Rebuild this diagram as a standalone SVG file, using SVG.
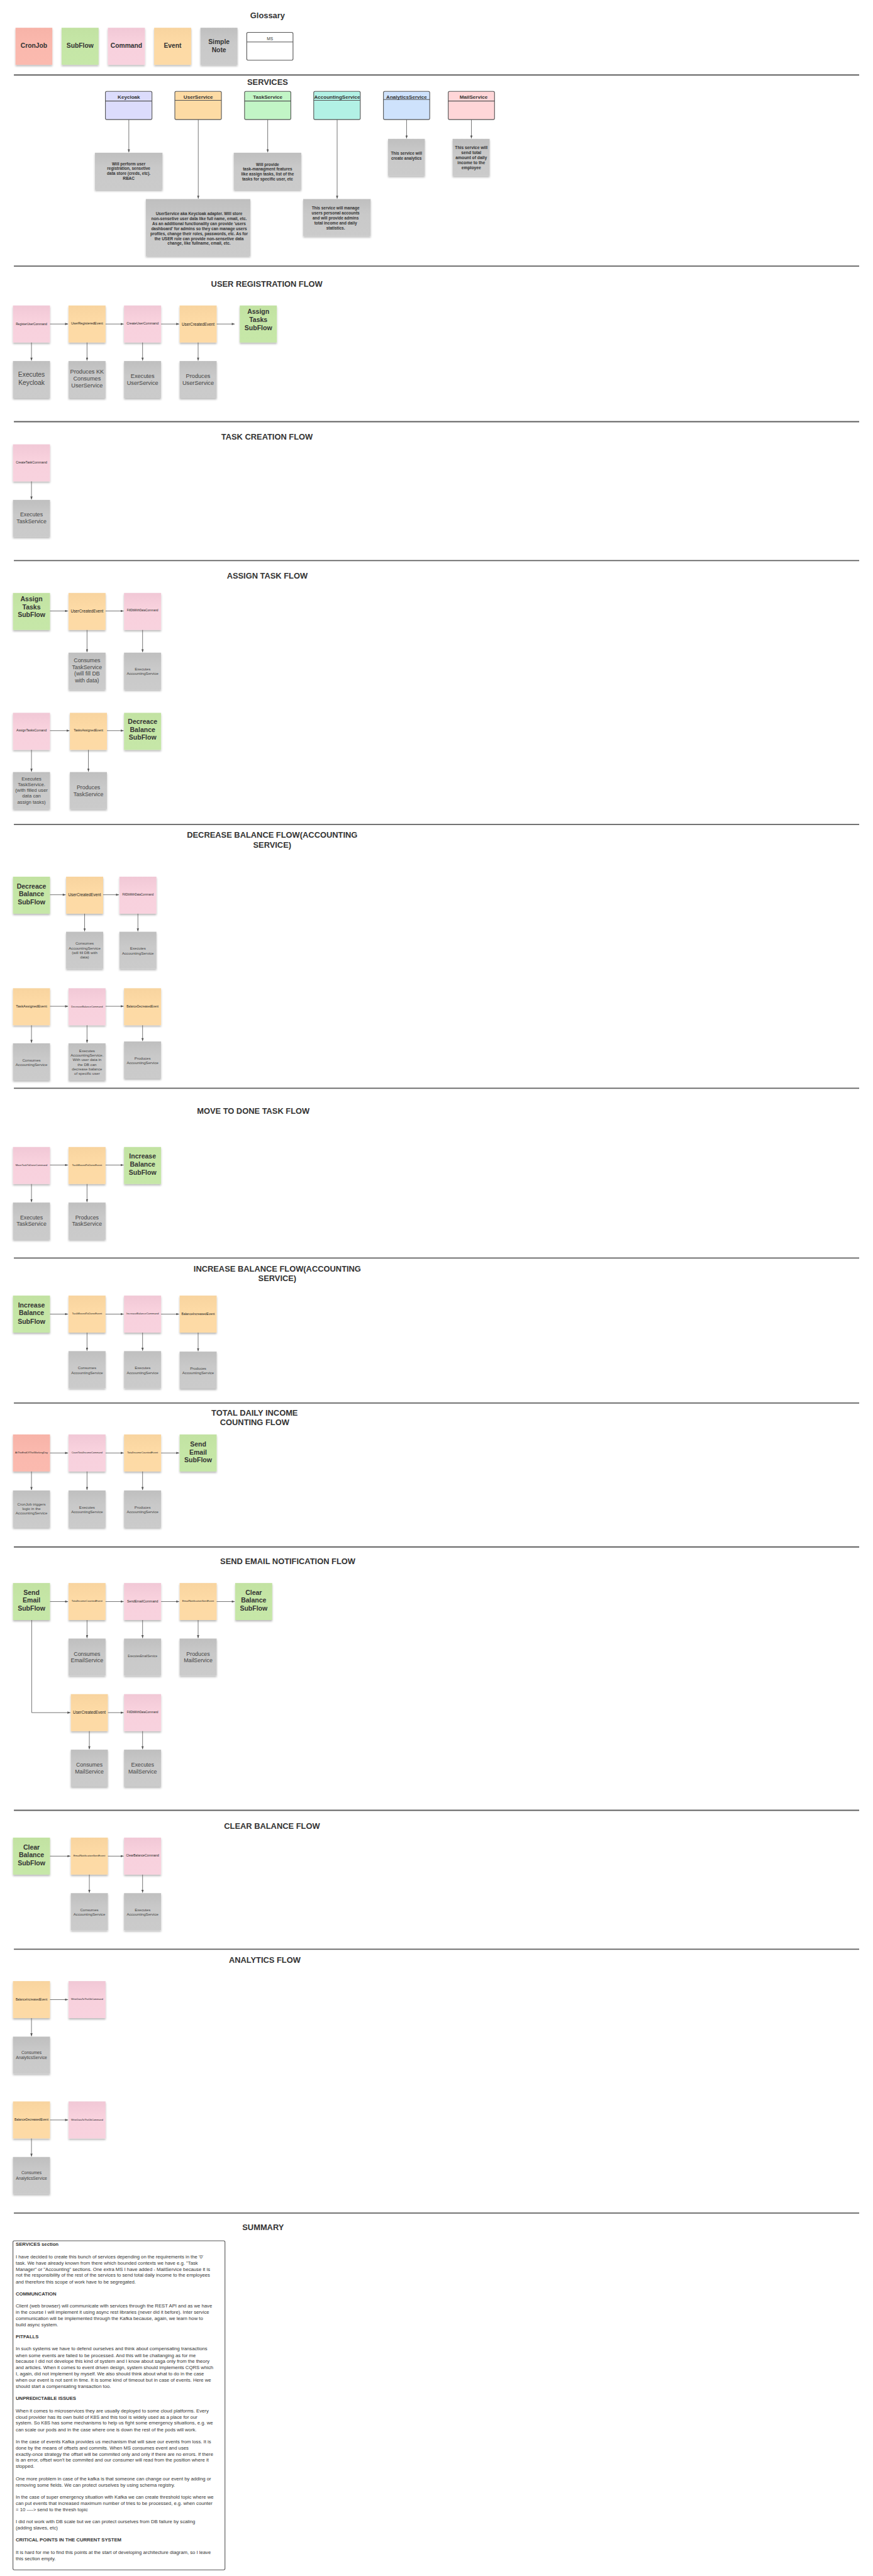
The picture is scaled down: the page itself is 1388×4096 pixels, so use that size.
<svg xmlns="http://www.w3.org/2000/svg" width="1388" height="4096" viewBox="0 0 1388 4096">
<defs>
<style>
text, tspan{font-family:"Liberation Sans",Arial,Helvetica,sans-serif;dominant-baseline:central}
.ttl{font-size:17.5px;font-weight:bold;fill:#333}
.ttlc{font-size:17.5px;font-weight:bold;fill:#333;text-anchor:middle}
.sf{font-size:14.3px;font-weight:bold;fill:#333;text-anchor:middle}
.gl{font-size:14px;font-weight:bold;fill:#333;text-anchor:middle}
.lb{fill:#222;text-anchor:middle}
.gn{fill:#444;text-anchor:middle}
.sv{font-size:8.8px;font-weight:bold;fill:#333;text-anchor:middle}
.hd{font-size:11px;font-weight:bold;fill:#333;text-anchor:middle}
.pk{fill:url(#gPk);filter:url(#sh)}
.or{fill:url(#gOr);filter:url(#sh)}
.gr{fill:url(#gGr);filter:url(#sh)}
.gy{fill:url(#gGy);filter:url(#sh)}
.cr{fill:url(#gCr);filter:url(#sh)}
.sep{stroke:#5f5f5f;stroke-width:2.5}
.cn{stroke:#555;stroke-width:1.1;fill:none;marker-end:url(#ah)}
.box{stroke:#555;stroke-width:1.5}
.dv{stroke:#555;stroke-width:1.5}
.sum{font-size:10.5px;fill:#333}
.sb{font-weight:bold}
</style>
<linearGradient id="gPk" x1="0" y1="0" x2="0" y2="1"><stop offset="0" stop-color="#F1C8D6"/><stop offset="0.4" stop-color="#F8D1DD"/><stop offset="1" stop-color="#F8D2DE"/></linearGradient>
<linearGradient id="gOr" x1="0" y1="0" x2="0" y2="1"><stop offset="0" stop-color="#F8D49F"/><stop offset="0.4" stop-color="#FDDAA5"/><stop offset="1" stop-color="#FDDAA6"/></linearGradient>
<linearGradient id="gGr" x1="0" y1="0" x2="0" y2="1"><stop offset="0" stop-color="#C2E2A2"/><stop offset="0.4" stop-color="#C5E6A6"/><stop offset="1" stop-color="#C6E7A8"/></linearGradient>
<linearGradient id="gGy" x1="0" y1="0" x2="0" y2="1"><stop offset="0" stop-color="#BFBFBF"/><stop offset="0.4" stop-color="#C9C9C9"/><stop offset="1" stop-color="#CBCBCB"/></linearGradient>
<linearGradient id="gCr" x1="0" y1="0" x2="0" y2="1"><stop offset="0" stop-color="#F7B3A8"/><stop offset="0.4" stop-color="#FAB8AD"/><stop offset="1" stop-color="#FBBAAF"/></linearGradient>
<filter id="sh" x="-15%" y="-15%" width="130%" height="135%"><feDropShadow dx="0" dy="3" stdDeviation="2" flood-color="#000" flood-opacity="0.28"/></filter>
<marker id="ah" viewBox="0 0 10 8" refX="10" refY="4" markerWidth="7" markerHeight="5" orient="auto" markerUnits="userSpaceOnUse"><path d="M0,0 L10,4 L0,8 z" fill="#555"/></marker>
</defs>
<rect width="1388" height="4096" fill="#fff"/>
<g transform="scale(0.736)">

<g id="titles">
<text class="ttlc" x="578" y="33">Glossary</text>
<text class="ttlc" x="578" y="177.5">SERVICES</text>
<text class="ttl" x="456" y="613">USER REGISTRATION FLOW</text>
<text class="ttl" x="478" y="943">TASK CREATION FLOW</text>
<text class="ttl" x="490" y="1244">ASSIGN TASK FLOW</text>
<text class="ttlc" x="588"><tspan x="588" y="1803">DECREASE BALANCE FLOW(ACCOUNTING</tspan><tspan x="588" y="1824.5">SERVICE)</tspan></text>
<text class="ttl" x="425.5" y="2400">MOVE TO DONE TASK FLOW</text>
<text class="ttlc" x="599"><tspan x="599" y="2740">INCREASE BALANCE FLOW(ACCOUNTING</tspan><tspan x="599" y="2761.5">SERVICE)</tspan></text>
<text class="ttlc" x="550"><tspan x="550" y="3051">TOTAL DAILY INCOME</tspan><tspan x="550" y="3072">COUNTING FLOW</tspan></text>
<text class="ttl" x="475.7" y="3373">SEND EMAIL NOTIFICATION FLOW</text>
<text class="ttl" x="484" y="3945">CLEAR BALANCE FLOW</text>
<text class="ttl" x="494.5" y="4234">ANALYTICS FLOW</text>
<text class="ttl" x="523.5" y="4812">SUMMARY</text>
</g>

<g id="separators">
<line class="sep" x1="30" y1="162" x2="1856" y2="162"/>
<line class="sep" x1="30" y1="575" x2="1856" y2="575"/>
<line class="sep" x1="30" y1="911" x2="1856" y2="911"/>
<line class="sep" x1="30" y1="1211" x2="1856" y2="1211"/>
<line class="sep" x1="30" y1="1781" x2="1856" y2="1781"/>
<line class="sep" x1="30" y1="2351" x2="1856" y2="2351"/>
<line class="sep" x1="30" y1="2718" x2="1856" y2="2718"/>
<line class="sep" x1="30" y1="3031" x2="1856" y2="3031"/>
<line class="sep" x1="30" y1="3342" x2="1856" y2="3342"/>
<line class="sep" x1="30" y1="3911" x2="1856" y2="3911"/>
<line class="sep" x1="30" y1="4211" x2="1856" y2="4211"/>
<line class="sep" x1="30" y1="4781" x2="1856" y2="4781"/>
</g>

<!-- Glossary -->
<g id="gl-cronjob"><rect class="cr" x="33.5" y="60" width="79.5" height="80"/><text class="gl" x="73.2" y="98.3">CronJob</text></g>
<g id="gl-subflow"><rect class="gr" x="133" y="60" width="80" height="80"/><text class="gl" x="173" y="98.3">SubFlow</text></g>
<g id="gl-command"><rect class="pk" x="233" y="60" width="80" height="80"/><text class="gl" x="273" y="98.3">Command</text></g>
<g id="gl-event"><rect class="or" x="333" y="60" width="80" height="80"/><text class="gl" x="373" y="98.3">Event</text></g>
<g id="gl-note"><rect class="gy" x="433" y="60" width="80" height="80"/><text class="gl"><tspan x="473" y="89.3">Simple</tspan><tspan x="473" y="106.7">Note</tspan></text></g>
<g id="gl-ms"><rect class="box" x="533" y="70" width="100" height="60" rx="3" fill="#fff"/><line class="dv" x1="533" y1="90.7" x2="633" y2="90.7"/><text x="583" y="83" font-size="9" fill="#333" text-anchor="middle">MS</text></g>

<!-- Services -->
<g id="svc-keycloak"><rect class="box" x="227.7" y="197.3" width="100.6" height="61" rx="3" fill="#DCDCFC"/><line class="dv" x1="227.7" y1="218.3" x2="328.3" y2="218.3"/><text class="hd" x="278.3" y="210.5">Keycloak</text></g>
<g id="svc-user"><rect class="box" x="377.7" y="197.3" width="100.6" height="61" rx="3" fill="#FDDBA4"/><line class="dv" x1="377.7" y1="216.7" x2="478.3" y2="216.7"/><text class="hd" x="428.3" y="210">UserService</text></g>
<g id="svc-task"><rect class="box" x="528.3" y="197.3" width="100" height="61" rx="3" fill="#C2F5C6"/><line class="dv" x1="528.3" y1="218.3" x2="628.3" y2="218.3"/><text class="hd" x="578.3" y="210.5">TaskService</text></g>
<g id="svc-accounting"><rect class="box" x="677.7" y="197.3" width="100.6" height="61" rx="3" fill="#B2F1E5"/><line class="dv" x1="677.7" y1="216.7" x2="778.3" y2="216.7"/><text class="hd" x="728.3" y="210">AccountingService</text></g>
<g id="svc-analytics"><rect class="box" x="828.3" y="197.3" width="100" height="61" rx="3" fill="#CEE2FC"/><line class="dv" x1="828.3" y1="215" x2="928.3" y2="215"/><text class="hd" x="878.3" y="209.5">AnalyticsService</text></g>
<g id="svc-mail"><rect class="box" x="968.3" y="197.3" width="100" height="61" rx="3" fill="#FFD6D8"/><line class="dv" x1="968.3" y1="218.3" x2="1068.3" y2="218.3"/><text class="hd" x="1023" y="210.5">MailService</text></g>

<g id="note-keycloak"><rect class="gy" x="205" y="330" width="146" height="80"/><text class="sv"><tspan x="278" y="352.7">Will perform user</tspan><tspan x="278" y="363.3">registration, sensetive</tspan><tspan x="278" y="374">data store (creds, etc).</tspan><tspan x="278" y="384.7">RBAC</tspan></text></g>
<g id="note-user"><rect class="gy" x="315" y="430" width="225.7" height="123"/><text class="sv"><tspan x="430" y="461">UserService aka Keycloak adapter. Will store</tspan><tspan x="430" y="471.7">non-sensetive user data like full name, email, etc.</tspan><tspan x="430" y="482.3">As an additional functionality can provide 'users</tspan><tspan x="430" y="493">dashboard' for admins so they can manage users</tspan><tspan x="430" y="503.7">profiles, change their roles, passwords, etc. As for</tspan><tspan x="430" y="514.3">the USER role can provide non-sensetive data</tspan><tspan x="430" y="525">change, like fullname, email, etc.</tspan></text></g>
<g id="note-task"><rect class="gy" x="505" y="330" width="145.7" height="80"/><text class="sv"><tspan x="578" y="354">Will provide</tspan><tspan x="578" y="364.7">task-managment features</tspan><tspan x="578" y="375.3">like assign tasks, list of the</tspan><tspan x="578" y="386">tasks for specific user, etc</tspan></text></g>
<g id="note-accounting"><rect class="gy" x="655" y="430" width="145.7" height="80"/><text class="sv"><tspan x="725" y="449">This service will manage</tspan><tspan x="725" y="459.7">users personal accounts</tspan><tspan x="725" y="470.3">and will provide admins</tspan><tspan x="725" y="481">total income and daily</tspan><tspan x="725" y="491.7">statistics.</tspan></text></g>
<g id="note-analytics"><rect class="gy" x="838.3" y="300" width="79.4" height="80"/><text class="sv"><tspan x="878" y="330">This service will</tspan><tspan x="878" y="340.7">create analytics</tspan></text></g>
<g id="note-mail"><rect class="gy" x="977.7" y="300" width="80" height="80"/><text class="sv" font-size="9.2"><tspan x="1018" y="317.3" font-size="9.2">This service will</tspan><tspan x="1018" y="328.3" font-size="9.2">send total</tspan><tspan x="1018" y="339.7" font-size="9.2">amount of daily</tspan><tspan x="1018" y="350.7" font-size="9.2">income to the</tspan><tspan x="1018" y="361.7" font-size="9.2">employee</tspan></text></g>

<!-- User registration -->
<g id="ur-register"><rect class="pk" x="28" y="660" width="80" height="80"/><text class="lb" x="68" y="700" font-size="6.5">RegisterUserCommand</text></g>
<g id="ur-registered"><rect class="or" x="148" y="660" width="80" height="80"/><text class="lb" x="188" y="699" font-size="7.3">UserRegisteredEvent</text></g>
<g id="ur-create"><rect class="pk" x="268" y="660" width="80" height="80"/><text class="lb" x="308" y="699" font-size="7.1">CreateUserCommand</text></g>
<g id="ur-created"><rect class="or" x="388" y="660" width="80" height="80"/><text class="lb" x="428" y="700" font-size="8.6">UserCreatedEvent</text></g>
<g id="ur-assign-sf"><rect class="gr" x="518" y="660" width="80" height="80"/><text class="sf"><tspan x="558" y="672.7">Assign</tspan><tspan x="558" y="690">Tasks</tspan><tspan x="558" y="707.3">SubFlow</tspan></text></g>
<g id="ur-n1"><rect class="gy" x="28" y="780" width="80" height="80"/><text class="gn" font-size="14"><tspan x="68" y="809">Executes</tspan><tspan x="68" y="826.7">Keycloak</tspan></text></g>
<g id="ur-n2"><rect class="gy" x="148" y="780" width="80" height="80"/><text class="gn" font-size="12.5"><tspan x="188" y="803">Produces KK</tspan><tspan x="188" y="818">Consumes</tspan><tspan x="188" y="832.7">UserService</tspan></text></g>
<g id="ur-n3"><rect class="gy" x="268" y="780" width="80" height="80"/><text class="gn" font-size="12.5"><tspan x="308" y="812.7">Executes</tspan><tspan x="308" y="827.3">UserService</tspan></text></g>
<g id="ur-n4"><rect class="gy" x="388" y="780" width="80" height="80"/><text class="gn" font-size="12.5"><tspan x="428" y="812.7">Produces</tspan><tspan x="428" y="827.3">UserService</tspan></text></g>

<!-- Task creation -->
<g id="tc-create"><rect class="pk" x="28" y="960" width="80" height="80"/><text class="lb" x="68" y="999" font-size="7">CreateTaskCommand</text></g>
<g id="tc-n1"><rect class="gy" x="28" y="1080" width="80" height="80"/><text class="gn" font-size="12"><tspan x="68" y="1112">Executes</tspan><tspan x="68" y="1126.5">TaskService</tspan></text></g>

<!-- Assign task -->
<g id="at-assign-sf"><rect class="gr" x="28" y="1281" width="80" height="80"/><text class="sf"><tspan x="68" y="1293.5">Assign</tspan><tspan x="68" y="1310.5">Tasks</tspan><tspan x="68" y="1328">SubFlow</tspan></text></g>
<g id="at-created"><rect class="or" x="148" y="1281" width="80" height="80"/><text class="lb" x="188" y="1320" font-size="8.6">UserCreatedEvent</text></g>
<g id="at-filldb"><rect class="pk" x="268" y="1281" width="80" height="80"/><text class="lb" x="308" y="1319" font-size="6">FillDbWithDataCommand</text></g>
<g id="at-n1"><rect class="gy" x="148" y="1410" width="80" height="80"/><text class="gn" font-size="12"><tspan x="188" y="1426">Consumes</tspan><tspan x="188" y="1441">TaskService</tspan><tspan x="188" y="1455.5">(will fill DB</tspan><tspan x="188" y="1470">with data)</tspan></text></g>
<g id="at-n2"><rect class="gy" x="268" y="1410" width="80" height="80"/><text class="gn" font-size="8.3"><tspan x="308" y="1444">Executes</tspan><tspan x="308" y="1454">AccountingService</tspan></text></g>
<g id="at-assigncmd"><rect class="pk" x="28" y="1540" width="80" height="80"/><text class="lb" x="68" y="1578" font-size="7">AssignTasksComand</text></g>
<g id="at-assigned"><rect class="or" x="151" y="1540" width="80" height="80"/><text class="lb" x="191" y="1578" font-size="6.9">TasksAssignedEvent</text></g>
<g id="at-decrease-sf"><rect class="gr" x="268" y="1540" width="80" height="80"/><text class="sf"><tspan x="308" y="1558.7">Decreace</tspan><tspan x="308" y="1576">Balance</tspan><tspan x="308" y="1593">SubFlow</tspan></text></g>
<g id="at-n3"><rect class="gy" x="28" y="1668" width="80" height="80"/><text class="gn" font-size="10.5"><tspan x="68" y="1681.5">Executes</tspan><tspan x="68" y="1694">TaskService.</tspan><tspan x="68" y="1706.7">(with filled user</tspan><tspan x="68" y="1719">data can</tspan><tspan x="68" y="1732">assign tasks)</tspan></text></g>
<g id="at-n4"><rect class="gy" x="151" y="1668" width="80" height="80"/><text class="gn" font-size="12"><tspan x="191" y="1701">Produces</tspan><tspan x="191" y="1715.4">TaskService</tspan></text></g>

<!-- Decrease balance -->
<g id="db-decrease-sf"><rect class="gr" x="28" y="1894" width="80" height="80"/><text class="sf"><tspan x="68" y="1914">Decreace</tspan><tspan x="68" y="1931">Balance</tspan><tspan x="68" y="1948.7">SubFlow</tspan></text></g>
<g id="db-created"><rect class="or" x="142.8" y="1894" width="80" height="80"/><text class="lb" x="182.8" y="1933" font-size="8.6">UserCreatedEvent</text></g>
<g id="db-filldb"><rect class="pk" x="257.9" y="1894" width="80" height="80"/><text class="lb" x="297.9" y="1933" font-size="6">FillDbWithDataCommand</text></g>
<g id="db-n1"><rect class="gy" x="142.8" y="2013" width="80" height="80"/><text class="gn" font-size="8.3"><tspan x="182.8" y="2037">Consumes</tspan><tspan x="182.8" y="2047">AccountingService</tspan><tspan x="182.8" y="2056.5">(will fill DB with</tspan><tspan x="182.8" y="2066">data)</tspan></text></g>
<g id="db-n2"><rect class="gy" x="257.9" y="2013" width="80" height="80"/><text class="gn" font-size="8.3"><tspan x="297.9" y="2048">Executes</tspan><tspan x="297.9" y="2058">AccountingService</tspan></text></g>
<g id="db-taskassigned"><rect class="or" x="28" y="2135" width="80" height="80"/><text class="lb" x="68" y="2174" font-size="7.7">TaskAssignedEvent</text></g>
<g id="db-decreasecmd"><rect class="pk" x="148" y="2135" width="80" height="80"/><text class="lb" x="188" y="2174" font-size="5.45">DecreaseBalanceCommand</text></g>
<g id="db-decreased"><rect class="or" x="268" y="2135" width="80" height="80"/><text class="lb" x="308" y="2174" font-size="6.3">BalanceDecreasedEvent</text></g>
<g id="db-n3"><rect class="gy" x="28" y="2254" width="80" height="80"/><text class="gn" font-size="8.3"><tspan x="68" y="2289.5">Consumes</tspan><tspan x="68" y="2299.5">AccountingService</tspan></text></g>
<g id="db-n4"><rect class="gy" x="148" y="2254" width="80" height="80"/><text class="gn" font-size="8.3"><tspan x="188" y="2269">Executes</tspan><tspan x="188" y="2279">AccountingService.</tspan><tspan x="188" y="2288.5">With user data in</tspan><tspan x="188" y="2298.3">the DB can</tspan><tspan x="188" y="2308.3">decrease balance</tspan><tspan x="188" y="2318.3">of specific user</tspan></text></g>
<g id="db-n5"><rect class="gy" x="268" y="2250" width="80" height="80"/><text class="gn" font-size="8.3"><tspan x="308" y="2285">Produces</tspan><tspan x="308" y="2295">AccountingService</tspan></text></g>

<!-- Move to done -->
<g id="md-movecmd"><rect class="pk" x="28" y="2478" width="80" height="80"/><text class="lb" x="68" y="2517" font-size="5.5">MoveTaskToDoneCommand</text></g>
<g id="md-moved"><rect class="or" x="148" y="2478" width="80" height="80"/><text class="lb" x="188" y="2517" font-size="5.9">TaskMovedToDoneEvent</text></g>
<g id="md-increase-sf"><rect class="gr" x="268" y="2478" width="80" height="80"/><text class="sf"><tspan x="308" y="2497.5">Increase</tspan><tspan x="308" y="2515">Balance</tspan><tspan x="308" y="2532">SubFlow</tspan></text></g>
<g id="md-n1"><rect class="gy" x="28" y="2598" width="80" height="80"/><text class="gn" font-size="12"><tspan x="68" y="2630">Executes</tspan><tspan x="68" y="2644.5">TaskService</tspan></text></g>
<g id="md-n2"><rect class="gy" x="148" y="2598" width="80" height="80"/><text class="gn" font-size="12"><tspan x="188" y="2630">Produces</tspan><tspan x="188" y="2644.5">TaskService</tspan></text></g>

<!-- Increase balance -->
<g id="ib-increase-sf"><rect class="gr" x="28" y="2799" width="80" height="80"/><text class="sf"><tspan x="68" y="2819">Increase</tspan><tspan x="68" y="2836">Balance</tspan><tspan x="68" y="2854">SubFlow</tspan></text></g>
<g id="ib-moved"><rect class="or" x="148" y="2799" width="80" height="80"/><text class="lb" x="188" y="2838" font-size="5.9">TaskMovedToDoneEvent</text></g>
<g id="ib-increasecmd"><rect class="pk" x="268" y="2799" width="80" height="80"/><text class="lb" x="308" y="2838" font-size="5.8">IncreaseBalanceCommand</text></g>
<g id="ib-increased"><rect class="or" x="388" y="2799" width="80" height="80"/><text class="lb" x="428" y="2838" font-size="6.8">BalanceIncreasedEvent</text></g>
<g id="ib-n1"><rect class="gy" x="148" y="2919" width="80" height="80"/><text class="gn" font-size="8.3"><tspan x="188" y="2953.6">Consumes</tspan><tspan x="188" y="2964">AccountingService</tspan></text></g>
<g id="ib-n2"><rect class="gy" x="268" y="2919" width="80" height="80"/><text class="gn" font-size="8.3"><tspan x="308" y="2953.6">Executes</tspan><tspan x="308" y="2964">AccountingService</tspan></text></g>
<g id="ib-n3"><rect class="gy" x="388" y="2920" width="80" height="80"/><text class="gn" font-size="8.3"><tspan x="428" y="2955">Produces</tspan><tspan x="428" y="2965">AccountingService</tspan></text></g>

<!-- Total daily income -->
<g id="td-cron"><rect class="cr" x="28" y="3099" width="80" height="80"/><text class="lb" x="68" y="3138" font-size="5.6">AtTheEndOfTheWorkingDay</text></g>
<g id="td-countcmd"><rect class="pk" x="148" y="3099" width="80" height="80"/><text class="lb" x="188" y="3138" font-size="5.3">CountTotalIncomeCommand</text></g>
<g id="td-counted"><rect class="or" x="268" y="3099" width="80" height="80"/><text class="lb" x="308" y="3138" font-size="5.7">TotalIncomeCountedEvent</text></g>
<g id="td-email-sf"><rect class="gr" x="388" y="3099" width="80" height="80"/><text class="sf"><tspan x="428" y="3119">Send</tspan><tspan x="428" y="3136.7">Email</tspan><tspan x="428" y="3154">SubFlow</tspan></text></g>
<g id="td-n1"><rect class="gy" x="28" y="3220" width="80" height="80"/><text class="gn" font-size="8.3"><tspan x="68" y="3248">CronJob triggers</tspan><tspan x="68" y="3258">logic in the</tspan><tspan x="68" y="3268">AccountingService</tspan></text></g>
<g id="td-n2"><rect class="gy" x="148" y="3220" width="80" height="80"/><text class="gn" font-size="8.3"><tspan x="188" y="3255">Executes</tspan><tspan x="188" y="3265">AccountingService</tspan></text></g>
<g id="td-n3"><rect class="gy" x="268" y="3220" width="80" height="80"/><text class="gn" font-size="8.3"><tspan x="308" y="3255">Produces</tspan><tspan x="308" y="3265">AccountingService</tspan></text></g>

<!-- Send email -->
<g id="se-email-sf"><rect class="gr" x="28" y="3420" width="80" height="80"/><text class="sf"><tspan x="68" y="3440">Send</tspan><tspan x="68" y="3457">Email</tspan><tspan x="68" y="3474.7">SubFlow</tspan></text></g>
<g id="se-counted"><rect class="or" x="148" y="3420" width="80" height="80"/><text class="lb" x="188" y="3459" font-size="5.7">TotalIncomeCountedEvent</text></g>
<g id="se-sendcmd"><rect class="pk" x="268" y="3420" width="80" height="80"/><text class="lb" x="308" y="3459" font-size="7.1">SendEmailCommand</text></g>
<g id="se-sent"><rect class="or" x="388" y="3420" width="80" height="80"/><text class="lb" x="428" y="3459" font-size="5.7">EmailNotificationSentEvent</text></g>
<g id="se-clear-sf"><rect class="gr" x="508" y="3420" width="80" height="80"/><text class="sf"><tspan x="548" y="3440">Clear</tspan><tspan x="548" y="3457">Balance</tspan><tspan x="548" y="3474.7">SubFlow</tspan></text></g>
<g id="se-n1"><rect class="gy" x="148" y="3540" width="80" height="80"/><text class="gn" font-size="12"><tspan x="188" y="3572.7">Consumes</tspan><tspan x="188" y="3587">EmailService</tspan></text></g>
<g id="se-n2"><rect class="gy" x="268" y="3540" width="80" height="80"/><text class="gn" x="308" y="3578.6" font-size="6.4">ExecutesEmailService</text></g>
<g id="se-n3"><rect class="gy" x="388" y="3540" width="80" height="80"/><text class="gn" font-size="12"><tspan x="428" y="3572.7">Produces</tspan><tspan x="428" y="3587">MailService</tspan></text></g>
<g id="se-created"><rect class="or" x="153" y="3660" width="80" height="80"/><text class="lb" x="193" y="3699.6" font-size="8.6">UserCreatedEvent</text></g>
<g id="se-filldb"><rect class="pk" x="268" y="3660" width="80" height="80"/><text class="lb" x="308" y="3699.6" font-size="6">FillDbWithDataCommand</text></g>
<g id="se-n4"><rect class="gy" x="153" y="3780" width="80" height="80"/><text class="gn" font-size="12"><tspan x="193" y="3812.5">Consumes</tspan><tspan x="193" y="3827">MailService</tspan></text></g>
<g id="se-n5"><rect class="gy" x="268" y="3780" width="80" height="80"/><text class="gn" font-size="12"><tspan x="308" y="3812.5">Executes</tspan><tspan x="308" y="3827">MailService</tspan></text></g>

<!-- Clear balance -->
<g id="cb-clear-sf"><rect class="gr" x="28" y="3970" width="80" height="80"/><text class="sf"><tspan x="68" y="3990">Clear</tspan><tspan x="68" y="4007">Balance</tspan><tspan x="68" y="4025">SubFlow</tspan></text></g>
<g id="cb-sent"><rect class="or" x="153" y="3970" width="80" height="80"/><text class="lb" x="193" y="4009" font-size="5.7">EmailNotificationSentEvent</text></g>
<g id="cb-clearcmd"><rect class="pk" x="268" y="3970" width="80" height="80"/><text class="lb" x="308" y="4008.7" font-size="6.7">ClearBalanceCommand</text></g>
<g id="cb-n1"><rect class="gy" x="153" y="4090" width="80" height="80"/><text class="gn" font-size="8.3"><tspan x="193" y="4125">Consumes</tspan><tspan x="193" y="4135">AccountingService</tspan></text></g>
<g id="cb-n2"><rect class="gy" x="268" y="4090" width="80" height="80"/><text class="gn" font-size="8.3"><tspan x="308" y="4125">Executes</tspan><tspan x="308" y="4135">AccountingService</tspan></text></g>

<!-- Analytics -->
<g id="an-increased"><rect class="or" x="28" y="4280" width="80" height="80"/><text class="lb" x="68" y="4320" font-size="6.5">BalanceIncreasedEvent</text></g>
<g id="an-write1"><rect class="pk" x="148" y="4280" width="80" height="80"/><text class="lb" x="188" y="4319" font-size="5.3">WriteDataToTheDbCommand</text></g>
<g id="an-n1"><rect class="gy" x="28" y="4400" width="80" height="80"/><text class="gn" font-size="9.2"><tspan x="68" y="4433.5">Consumes</tspan><tspan x="68" y="4444.6">AnalyticsService</tspan></text></g>
<g id="an-decreased"><rect class="or" x="28" y="4540" width="80" height="80"/><text class="lb" x="68" y="4579.5" font-size="6.7">BalanceDecreasedEvent</text></g>
<g id="an-write2"><rect class="pk" x="148" y="4540" width="80" height="80"/><text class="lb" x="188" y="4579" font-size="5.3">WriteDataToTheDbCommand</text></g>
<g id="an-n2"><rect class="gy" x="28" y="4660" width="80" height="80"/><text class="gn" font-size="9.2"><tspan x="68" y="4693.4">Consumes</tspan><tspan x="68" y="4704.5">AnalyticsService</tspan></text></g>

<!-- Summary -->
<g id="summary">
<rect class="box" x="28" y="4841" width="458" height="711" rx="3" fill="#fff"/>
<text class="sum">
<tspan x="34" y="4848" class="sb">SERVICES section</tspan>
<tspan x="34" y="4874.5">I have decided to create this bunch of services depending on the requirements in the '0'</tspan>
<tspan x="34" y="4888">task. We have already known from there which bounded contexts we have e.g. "Task</tspan>
<tspan x="34" y="4901.6">Manager" or "Accounting" sections. One extra MS I have added - MailService because it is</tspan>
<tspan x="34" y="4915">not the responsibility of the rest of the services to send total daily income to the employees</tspan>
<tspan x="34" y="4929">and therefore this scope of work have to be segregated.</tspan>
<tspan x="34" y="4955" class="sb">COMMUNCATION</tspan>
<tspan x="34" y="4981.5">Client (web browser) will communicate with services through the REST API and as we have</tspan>
<tspan x="34" y="4994.6">in the course I will implement it using async rest libraries (never did it before). Inter service</tspan>
<tspan x="34" y="5008">communication will be implemented through the Kafka because, again, we learn how to</tspan>
<tspan x="34" y="5022">build async system.</tspan>
<tspan x="34" y="5048" class="sb">PITFALLS</tspan>
<tspan x="34" y="5074">In such systems we have to defend ourselves and think about compensating transactions</tspan>
<tspan x="34" y="5088">when some events are failed to be processed. And this will be challanging as for me</tspan>
<tspan x="34" y="5101">because I did not develope this kind of system and I know about saga only from the theory</tspan>
<tspan x="34" y="5114.6">and articles. When it comes to event driven design, system should implements CQRS which</tspan>
<tspan x="34" y="5127.7">I, again, did not implement by myself. We also should think about what to do in the case</tspan>
<tspan x="34" y="5141">when our event is not sent in time. It is some kind of timeout but in case of events. Here we</tspan>
<tspan x="34" y="5155">should start a compensating transaction too.</tspan>
<tspan x="34" y="5181" class="sb">UNPREDICTABLE ISSUES</tspan>
<tspan x="34" y="5208">When it comes to microservices they are usually deployed to some cloud platforms. Every</tspan>
<tspan x="34" y="5221">cloud provider has its own build of K8S and this tool is widely used as a place for our</tspan>
<tspan x="34" y="5234">system. So K8S has some mechanisms to help us fight some emergency situations, e.g. we</tspan>
<tspan x="34" y="5248">can scale our pods and in the case where one is down the rest of the pods will work.</tspan>
<tspan x="34" y="5274">In the case of events Kafka provides us mechanism that will save our events from loss. It is</tspan>
<tspan x="34" y="5288">done by the means of offsets and commits. When MS consumes event and uses</tspan>
<tspan x="34" y="5301">exactly-once strategy the offset will be commited only and only if there are no errors. If there</tspan>
<tspan x="34" y="5314">is an error, offset won't be commited and our consumer will read from the position where it</tspan>
<tspan x="34" y="5327.6">stopped.</tspan>
<tspan x="34" y="5354">One more problem in case of the kafka  is that someone can change our event by adding or</tspan>
<tspan x="34" y="5368">removing some fields. We can protect ourselves by using schema registry.</tspan>
<tspan x="34" y="5394">In the case of super emergency situation with Kafka we can create threshold topic where we</tspan>
<tspan x="34" y="5407">can put events that increased maximum number of tries to be processed, e.g. when counter</tspan>
<tspan x="34" y="5421">= 10 ----&gt; send to the thresh topic</tspan>
<tspan x="34" y="5447">I did not work with DB scale but we can protect ourselves from DB failure by scaling</tspan>
<tspan x="34" y="5461">(adding slaves, etc)</tspan>
<tspan x="34" y="5487" class="sb">CRITICAL POINTS IN THE CURRENT SYSTEM</tspan>
<tspan x="34" y="5514">It is hard for me to find this points at the start of developing architecture diagram, so I leave</tspan>
<tspan x="34" y="5527">this section empty.</tspan>
</text>
</g>

<g id="connectors">
<!-- services -->
<line class="cn" x1="278.3" y1="258.3" x2="278.3" y2="329"/>
<line class="cn" x1="428.3" y1="258.3" x2="428.3" y2="429"/>
<line class="cn" x1="578.3" y1="258.3" x2="578.3" y2="329"/>
<line class="cn" x1="728.3" y1="258.3" x2="728.3" y2="429"/>
<line class="cn" x1="878.3" y1="258.3" x2="878.3" y2="299"/>
<line class="cn" x1="1018.3" y1="258.3" x2="1018.3" y2="299"/>
<!-- user registration -->
<line class="cn" x1="108" y1="700" x2="147" y2="700"/>
<line class="cn" x1="228" y1="700" x2="267" y2="700"/>
<line class="cn" x1="348" y1="700" x2="387" y2="700"/>
<line class="cn" x1="468" y1="700" x2="507" y2="700"/>
<line class="cn" x1="68" y1="740" x2="68" y2="779"/>
<line class="cn" x1="188" y1="740" x2="188" y2="779"/>
<line class="cn" x1="308" y1="740" x2="308" y2="779"/>
<line class="cn" x1="428" y1="740" x2="428" y2="779"/>
<!-- task creation -->
<line class="cn" x1="68" y1="1040" x2="68" y2="1079"/>
<!-- assign task -->
<line class="cn" x1="108" y1="1320" x2="147" y2="1320"/>
<line class="cn" x1="228" y1="1320" x2="267" y2="1320"/>
<line class="cn" x1="188" y1="1361" x2="188" y2="1409"/>
<line class="cn" x1="308" y1="1361" x2="308" y2="1409"/>
<line class="cn" x1="108" y1="1578.5" x2="150" y2="1578.5"/>
<line class="cn" x1="231" y1="1578.5" x2="267" y2="1578.5"/>
<line class="cn" x1="68" y1="1620" x2="68" y2="1667"/>
<line class="cn" x1="191" y1="1620" x2="191" y2="1667"/>
<!-- decrease balance -->
<line class="cn" x1="108" y1="1933" x2="141.8" y2="1933"/>
<line class="cn" x1="222.8" y1="1933" x2="256.9" y2="1933"/>
<line class="cn" x1="182.8" y1="1974" x2="182.8" y2="2012"/>
<line class="cn" x1="297.9" y1="1974" x2="297.9" y2="2012"/>
<line class="cn" x1="108" y1="2174" x2="147" y2="2174"/>
<line class="cn" x1="228" y1="2174" x2="267" y2="2174"/>
<line class="cn" x1="68" y1="2215" x2="68" y2="2253"/>
<line class="cn" x1="188" y1="2215" x2="188" y2="2253"/>
<line class="cn" x1="308" y1="2215" x2="308" y2="2249"/>
<!-- move to done -->
<line class="cn" x1="108" y1="2517" x2="147" y2="2517"/>
<line class="cn" x1="228" y1="2517" x2="267" y2="2517"/>
<line class="cn" x1="68" y1="2558" x2="68" y2="2597"/>
<line class="cn" x1="188" y1="2558" x2="188" y2="2597"/>
<!-- increase balance -->
<line class="cn" x1="108" y1="2839" x2="147" y2="2839"/>
<line class="cn" x1="228" y1="2839" x2="267" y2="2839"/>
<line class="cn" x1="348" y1="2839" x2="387" y2="2839"/>
<line class="cn" x1="188" y1="2879" x2="188" y2="2918"/>
<line class="cn" x1="308" y1="2879" x2="308" y2="2918"/>
<line class="cn" x1="428" y1="2879" x2="428" y2="2919"/>
<!-- total daily income -->
<line class="cn" x1="108" y1="3139" x2="147" y2="3139"/>
<line class="cn" x1="228" y1="3139" x2="267" y2="3139"/>
<line class="cn" x1="348" y1="3139" x2="387" y2="3139"/>
<line class="cn" x1="68" y1="3179" x2="68" y2="3219"/>
<line class="cn" x1="188" y1="3179" x2="188" y2="3219"/>
<line class="cn" x1="308" y1="3179" x2="308" y2="3219"/>
<!-- send email -->
<line class="cn" x1="108" y1="3460" x2="147" y2="3460"/>
<line class="cn" x1="228" y1="3460" x2="267" y2="3460"/>
<line class="cn" x1="348" y1="3460" x2="387" y2="3460"/>
<line class="cn" x1="468" y1="3460" x2="507" y2="3460"/>
<line class="cn" x1="188" y1="3500" x2="188" y2="3539"/>
<line class="cn" x1="308" y1="3500" x2="308" y2="3539"/>
<line class="cn" x1="428" y1="3500" x2="428" y2="3539"/>
<path class="cn" d="M68.5 3500 V3700 H152"/>
<line class="cn" x1="233" y1="3700" x2="267" y2="3700"/>
<line class="cn" x1="193" y1="3740" x2="193" y2="3779"/>
<line class="cn" x1="308" y1="3740" x2="308" y2="3779"/>
<!-- clear balance -->
<line class="cn" x1="108" y1="4010" x2="152" y2="4010"/>
<line class="cn" x1="233" y1="4010" x2="267" y2="4010"/>
<line class="cn" x1="193" y1="4050" x2="193" y2="4089"/>
<line class="cn" x1="308" y1="4050" x2="308" y2="4089"/>
<!-- analytics -->
<line class="cn" x1="108" y1="4320" x2="147" y2="4320"/>
<line class="cn" x1="68" y1="4360" x2="68" y2="4399"/>
<line class="cn" x1="108" y1="4580" x2="147" y2="4580"/>
<line class="cn" x1="68" y1="4620" x2="68" y2="4659"/>
</g>

</g>
</svg>
